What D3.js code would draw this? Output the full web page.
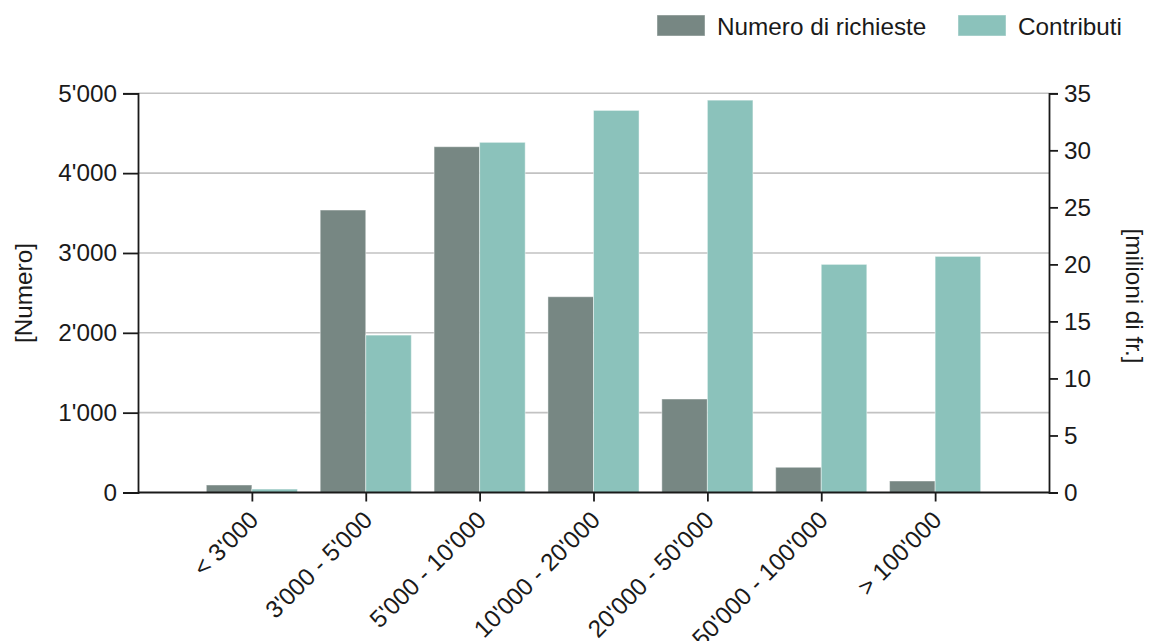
<!DOCTYPE html>
<html>
<head>
<meta charset="utf-8">
<script src="https://cdn.jsdelivr.net/npm/d3@7"></script>
<style>
html,body{margin:0;padding:0;background:#fff;}
svg{display:block;font-family:"Liberation Sans",Arial,sans-serif;}
</style>
</head>
<body>
<svg id="chart" width="1149" height="641"></svg>
<script>
const categories = ["< 3'000","3'000 - 5'000","5'000 - 10'000","10'000 - 20'000","20'000 - 50'000","50'000 - 100'000","> 100'000"];
const seriesNames = ["Numero di richieste","Contributi"];
const numeroRichieste = [94, 3538, 4331, 2452, 1171, 316, 144];
const contributi = [0.3, 13.8, 30.7, 33.5, 34.4, 20.0, 20.7];
const leftTicks = [0, 1000, 2000, 3000, 4000, 5000];
const rightTicks = [0, 5, 10, 15, 20, 25, 30, 35];
const colors = ["#778783", "#8bc2bb"];

const svg = d3.select("#chart");
const L = 138, R = 1049, T = 93.3, B = 492.5;
const fs = 24.3;

const x = d3.scalePoint().domain(categories).range([L, R]).padding(1);
const step = x.step();
const xs = d3.scaleBand().domain(seriesNames).range([-step*0.4, step*0.4]);
const yL = d3.scaleLinear().domain([0, 5000]).range([B, T]);
const yR = d3.scaleLinear().domain([0, 35]).range([B, T]);

const loc = d3.formatLocale({decimal:".", thousands:"'", grouping:[3], currency:["",""]});
const fmt = loc.format(",");

// gridlines
svg.append("g").selectAll("line").data(leftTicks.filter(d=>d>0)).join("line")
  .attr("x1", L).attr("x2", R)
  .attr("y1", d=>yL(d)).attr("y2", d=>yL(d))
  .attr("stroke", "#c2c2c2").attr("stroke-width", 1.6);

// bars
const g = svg.append("g");
g.selectAll("rect.n").data(categories).join("rect").attr("class","n")
  .attr("x", d=>x(d)+xs(seriesNames[0]))
  .attr("width", xs.bandwidth())
  .attr("y", (d,i)=>yL(numeroRichieste[i]))
  .attr("height", (d,i)=>B-yL(numeroRichieste[i]))
  .attr("fill", colors[0]).attr("stroke","rgba(255,255,255,0.45)").attr("stroke-width",1);
g.selectAll("rect.c").data(categories).join("rect").attr("class","c")
  .attr("x", d=>x(d)+xs(seriesNames[1]))
  .attr("width", xs.bandwidth())
  .attr("y", (d,i)=>yR(contributi[i]))
  .attr("height", (d,i)=>B-yR(contributi[i]))
  .attr("fill", colors[1]).attr("stroke","rgba(255,255,255,0.45)").attr("stroke-width",1);

// left axis
const axL = svg.append("g").attr("transform", `translate(${L},0)`)
  .call(d3.axisLeft(yL).tickValues(leftTicks).tickFormat(fmt).tickSize(15).tickPadding(6));
// right axis
const axR = svg.append("g").attr("transform", `translate(${R},0)`)
  .call(d3.axisRight(yR).tickValues(rightTicks).tickSize(9).tickPadding(6));
// bottom axis
const axB = svg.append("g").attr("transform", `translate(0,${B})`)
  .call(d3.axisBottom(x).tickSize(9).tickFormat(""));
axB.select(".domain").attr("d", `M${L},0H${R}`);

[axL, axR, axB].forEach(a=>{
  a.selectAll(".domain").attr("stroke","#1a1a1a").attr("stroke-width",1.8);
  a.selectAll(".tick line").attr("stroke","#1a1a1a").attr("stroke-width",1.8);
  a.selectAll("text").attr("font-size", fs).attr("fill","#1a1a1a")
    .attr("font-family","Liberation Sans, Arial, sans-serif");
});

// x labels rotated
svg.append("g").selectAll("text").data(categories).join("text")
  .attr("transform", d=>`translate(${x(d)+8},${B+29}) rotate(-45)`)
  .attr("text-anchor","end")
  .attr("font-size", fs).attr("fill","#1a1a1a")
  .text(d=>d);

// axis titles
svg.append("text").attr("transform", `translate(32,293) rotate(-90)`)
  .attr("text-anchor","middle").attr("font-size", fs).attr("fill","#1a1a1a").text("[Numero]");
svg.append("text").attr("transform", `translate(1126,296) rotate(90)`)
  .attr("text-anchor","middle").attr("font-size", fs).attr("fill","#1a1a1a").text("[milioni di fr.]");

// legend
const legX = [657, 958];
const leg = svg.append("g").selectAll("g").data(seriesNames).join("g")
  .attr("transform", (d,i)=>`translate(${legX[i]},15)`);
leg.append("rect").attr("width",48).attr("height",21)
  .attr("fill",(d,i)=>colors[i]).attr("stroke","rgba(255,255,255,0.45)");
leg.append("text").attr("x",60).attr("y",20)
  .attr("font-size", fs).attr("fill","#1a1a1a").text(d=>d);
</script>
</body>
</html>
